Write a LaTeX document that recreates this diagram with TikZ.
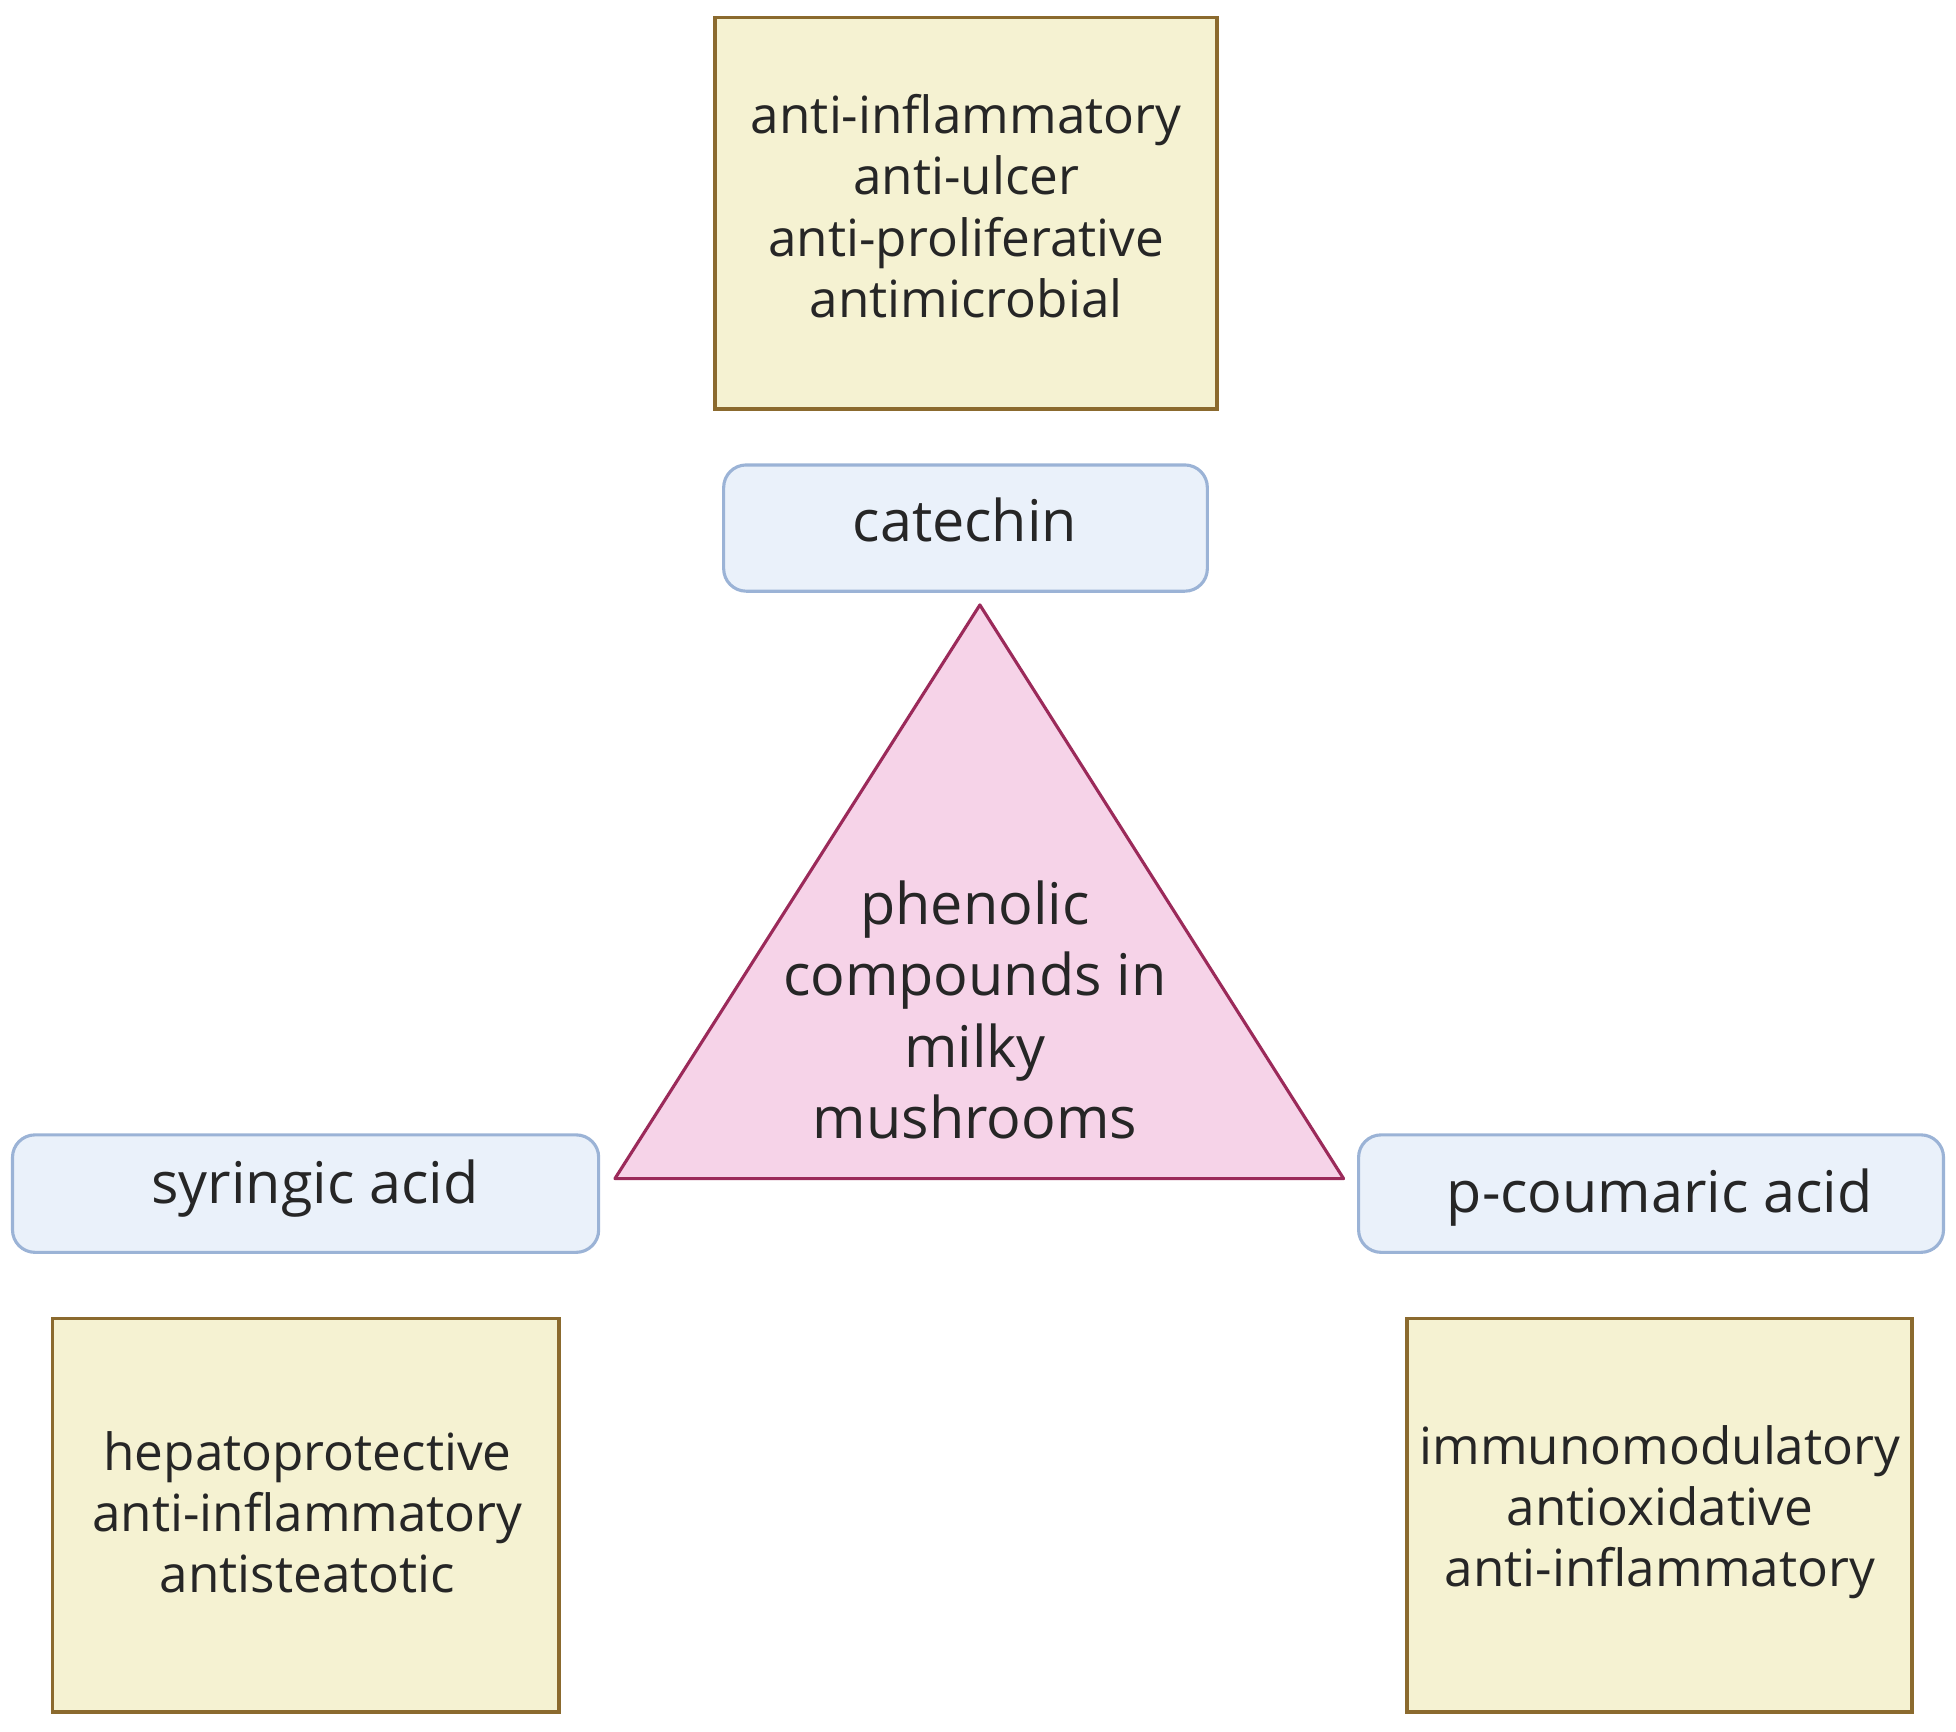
\documentclass[tikz,border=0pt]{standalone}
\usepackage{fontspec}
\setmainfont{Open Sans}
\definecolor{bfill}{HTML}{F5F2D2}
\definecolor{bdraw}{HTML}{8B6A2E}
\definecolor{cfill}{HTML}{EAF1FA}
\definecolor{cdraw}{HTML}{9BB3D6}
\definecolor{tfill}{HTML}{F6D3E8}
\definecolor{tdraw}{HTML}{9B2A5A}
\begin{document}
\begin{tikzpicture}[x=1pt,y=-1pt,
  prop/.style={draw=bdraw,fill=bfill,line width=3pt},
  comp/.style={draw=cdraw,fill=cfill,line width=2.5pt,rounded corners=18pt},
  txt/.style={align=center,font=\fontsize{41}{49}\selectfont,text=black!85},
  ctxt/.style={font=\fontsize{46}{52}\selectfont,text=black!85}]
\useasboundingbox (0,0) rectangle (1565,1385);
\draw[prop] (572,14) rectangle (974,327);
\node[txt] (t1) at (773,165) {anti-inflammatory\\anti-ulcer\\anti-proliferative\\antimicrobial};
\draw[comp] (579,372) rectangle (966,473);
\node[ctxt] (cat) at (772,416) {catechin};
\draw[draw=tdraw,fill=tfill,line width=2.5pt,line join=round] (784,484) -- (1075,943) -- (492,943) -- cycle;
\node[txt,font=\fontsize{46}{57}\selectfont] (phen) at (780,808) {phenolic\\compounds in\\milky\\mushrooms};
\draw[comp] (10,908) rectangle (479,1002);
\node[ctxt] (syr) at (252,951) {syringic acid};
\draw[comp] (1087,908) rectangle (1555,1002);
\node[ctxt] (pco) at (1328,958) {p-coumaric acid};
\draw[prop] (42,1055) rectangle (447,1370);
\node[txt] (t2) at (246,1210) {hepatoprotective\\anti-inflammatory\\antisteatotic};
\draw[prop] (1126,1055) rectangle (1530,1370);
\node[txt] (t3) at (1328,1210) {immunomodulatory\\antioxidative\\anti-inflammatory};
\end{tikzpicture}
\end{document}
